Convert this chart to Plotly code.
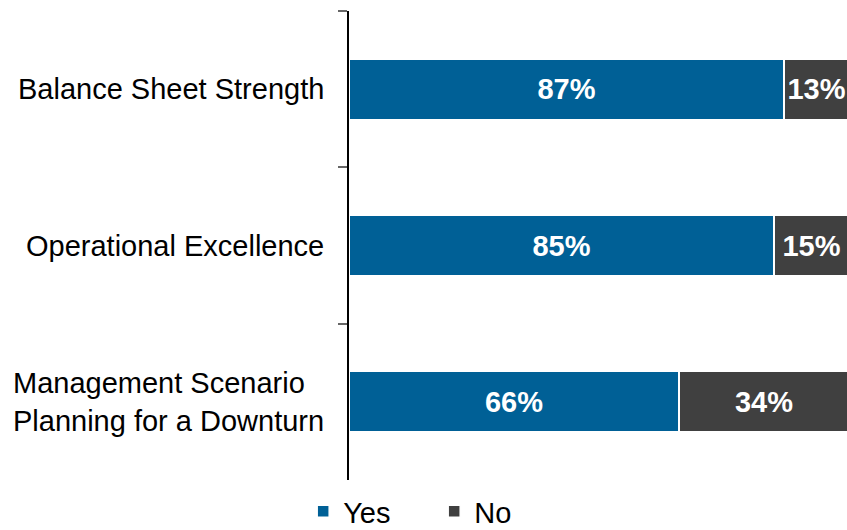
import plotly.graph_objects as go

# Survey responses per focus area (percent)
categories = [
    "Balance Sheet Strength",
    "Operational Excellence",
    "Management Scenario<br>Planning for a Downturn",
]
yes_values = [87, 85, 66]
no_values = [13, 15, 34]

YES_COLOR = "#006096"
NO_COLOR = "#404040"
FONT = "Liberation Sans, Arial, sans-serif"

fig = go.Figure()
for name, vals, color in [("Yes", yes_values, YES_COLOR), ("No", no_values, NO_COLOR)]:
    fig.add_trace(go.Bar(
        name=name,
        y=categories,
        x=vals,
        orientation="h",
        marker=dict(color=color, line=dict(color="white", width=1.5)),
        text=[f"{v}%" for v in vals],
        textposition="inside",
        insidetextanchor="middle",
        constraintext="none",
        textfont=dict(family=FONT, size=29, color="white", weight="bold"),
        hoverinfo="skip",
    ))

# Category labels as left-aligned text blocks right of the axis gap
for cat in categories:
    fig.add_annotation(
        x=0, xref="paper", y=cat, yref="y",
        text=cat, showarrow=False,
        xanchor="right", align="left", xshift=-23,
        font=dict(family=FONT, size=29, color="black"),
    )

fig.update_layout(
    barmode="stack",
    bargap=0.615,
    width=847, height=530,
    margin=dict(l=349, r=0, t=11, b=50, autoexpand=False),
    paper_bgcolor="white",
    plot_bgcolor="white",
    font=dict(family=FONT, size=29, color="black"),
    showlegend=True,
    legend=dict(
        orientation="h",
        traceorder="normal",
        xref="paper", yref="paper",
        x=-0.092, y=-0.067, xanchor="left", yanchor="middle",
        font=dict(family=FONT, size=29, color="black"),
        entrywidth=86,
        itemclick=False, itemdoubleclick=False,
    ),
    xaxis=dict(range=[0, 99.6], visible=False, fixedrange=True),
    yaxis=dict(
        autorange="reversed",
        showticklabels=False,
        showline=True, linecolor="black", linewidth=2,
        ticks="outside", tickson="boundaries", ticklen=9,
        tickcolor="#666666", tickwidth=2,
        showgrid=False, zeroline=False, fixedrange=True,
    ),
)

fig.write_html("out.html")
